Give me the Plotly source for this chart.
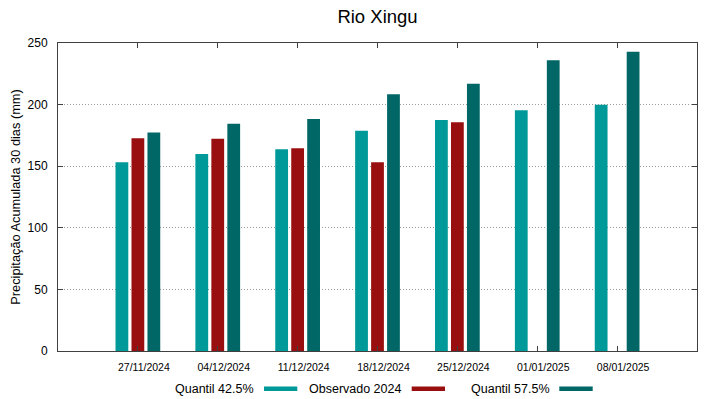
import plotly.graph_objects as go

# ---- data ----
dates = ["27/11/2024", "04/12/2024", "11/12/2024", "18/12/2024",
         "25/12/2024", "01/01/2025", "08/01/2025"]
positions = [1, 2, 3, 4, 5, 6, 7]
quantil_425 = [153.2, 160.0, 163.8, 178.7, 187.6, 195.5, 199.8]
observado_2024 = [172.7, 172.2, 164.6, 153.2, 185.7, None, None]
quantil_575 = [177.3, 184.4, 188.4, 208.5, 216.9, 235.9, 242.9]
y_ticks = [0, 50, 100, 150, 200, 250]

names = ["Quantil 42.5%", "Observado 2024", "Quantil 57.5%"]
colors = ["#009999", "#990f0f", "#006666"]
series = [quantil_425, observado_2024, quantil_575]

W, H = 719, 399
L, R, T, B = 58, 697, 43, 351  # plot area in pixels

fig = go.Figure()
for name, col, vals in zip(names, colors, series):
    fig.add_trace(go.Bar(x=positions, y=vals, name=name,
                         marker=dict(color=col, line=dict(width=0)),
                         showlegend=False))

font = "Liberation Sans, Arial, sans-serif"

fig.update_layout(
    width=W, height=H,
    margin=dict(l=L, r=W - R, t=T, b=H - B, pad=0),
    paper_bgcolor="white", plot_bgcolor="white",
    barmode="group", bargap=0.4, bargroupgap=0.2,
    font=dict(family=font, color="#000000"),
    title=dict(text="Rio Xingu", x=0.5, xref="paper", xanchor="center",
               y=1 - 17 / H, yref="container", yanchor="middle",
               font=dict(size=18.5, family=font, color="#000000")),
)

fig.update_xaxes(
    range=[0, 8], tickmode="array", tickvals=positions, ticktext=dates,
    tickfont=dict(size=10.5, family=font, color="#000000"),
    ticks="inside", ticklen=5, tickcolor="#404040", mirror="ticks",
    showline=True, linecolor="#404040", linewidth=1,
    showgrid=False, zeroline=False, ticklabelstandoff=6, ticklabelshift=6,
)
fig.update_yaxes(
    range=[0, 250], tickmode="array", tickvals=y_ticks,
    tickfont=dict(size=12, family=font, color="#000000"),
    ticks="inside", ticklen=5, tickcolor="#404040", mirror="ticks",
    showline=True, linecolor="#404040", linewidth=1,
    showgrid=True, gridcolor="#9a9a9a", griddash="1px,2px", gridwidth=1,
    zeroline=False, ticklabelstandoff=7,
    title=dict(text="Precipitação Acumulada 30 dias (mm)",
               font=dict(size=12.8, family=font, color="#000000"), standoff=4),
)

# custom legend: text followed by swatch (gnuplot style)
def px_x(p):
    return (p - L) / (R - L)

def px_y(p):
    return (B - p) / (B - T)

legend_items = [
    (256, 264, 297.3),
    (403.3, 411.7, 445),
    (551.7, 559.3, 592.7),
]
ly = 388.5
for (txt_right, sx0, sx1), name, col in zip(legend_items, names, colors):
    fig.add_annotation(text=name, xref="paper", yref="paper",
                       x=px_x(txt_right), y=px_y(ly), xanchor="right", yanchor="middle",
                       showarrow=False, font=dict(size=12.5, family=font, color="#000000"))
    fig.add_shape(type="rect", xref="paper", yref="paper",
                  x0=px_x(sx0), x1=px_x(sx1), y0=px_y(ly + 2.5), y1=px_y(ly - 2.0),
                  fillcolor=col, line=dict(width=0))

fig.write_html("out.html", config={"displayModeBar": False},
               post_script="document.body.style.margin='0';document.body.style.padding='0';")
